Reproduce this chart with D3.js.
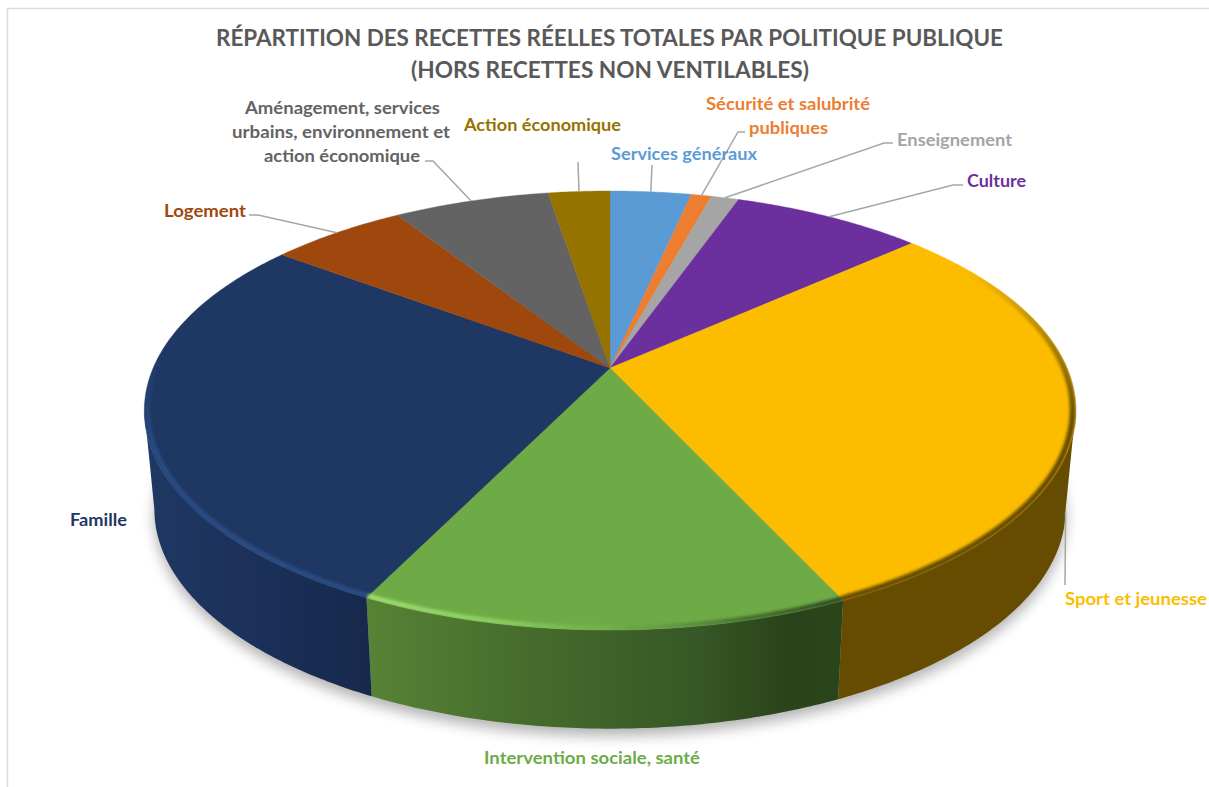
<!DOCTYPE html>
<html lang="fr"><head><meta charset="utf-8">
<script src="https://cdn.jsdelivr.net/npm/d3@7/dist/d3.min.js"></script>
<style>html,body{margin:0;padding:0;background:#fff;overflow:hidden}svg{display:block}text{font-family:Lato,"Open Sans",sans-serif;font-weight:700}</style>
</head><body><svg id="c" width="1209" height="787"></svg>
<script>
// --- data ---
const categories = ["Services généraux","Sécurité et salubrité publiques","Enseignement","Culture","Sport et jeunesse","Intervention sociale, santé","Famille","Logement","Aménagement, services urbains, environnement et action économique","Action économique"];
const values = [3.4,0.85,1.15,8.0,29.69,14.17,27.94,5.7,6.52,2.58];
const titleLines = ["RÉPARTITION DES RECETTES RÉELLES TOTALES PAR POLITIQUE PUBLIQUE","(HORS RECETTES NON VENTILABLES)"];
// --- appearance ---
const colors = ["#5b9bd5","#ed7d31","#a5a5a5","#6b2f9e","#fcbd00","#6eab47","#1e3763","#9e480e","#636363","#967200"];
// label layout: lines [text, left x, width, baseline y], leader start and elbow points
const layout = [
 {lines:[["Services généraux",611,146,160]],elbow:[[652,165]]},
 {lines:[["Sécurité et salubrité",706,164,110],["publiques",749,79,134]],elbow:[[745,132],[738,132]]},
 {lines:[["Enseignement",897,115,146]],elbow:[[893,143],[884,143]]},
 {lines:[["Culture",967,59,187]],elbow:[[963,185],[953,185]]},
 {lines:[["Sport et jeunesse",1065,142,605]],elbow:[[1065,585]],bottom:true},
 {lines:[["Intervention sociale, santé",484,216,764]],elbow:null},
 {lines:[["Famille",70,57,526]],elbow:null},
 {lines:[["Logement",164,82,217]],elbow:[[249,215],[258,215]]},
 {lines:[["Aménagement, services",245,195,114],["urbains, environnement et",232,218,138],["action économique",264,156,162]],elbow:[[425,161],[433,161]]},
 {lines:[["Action économique",464,157,131]],elbow:[[578,162]]}
];
const svg = d3.select("#c");
const defs = svg.append("defs");
const blur=(id,s)=>defs.append("filter").attr("id",id).attr("filterUnits","userSpaceOnUse").attr("x",0).attr("y",0).attr("width",1209).attr("height",787).append("feGaussianBlur").attr("stdDeviation",s);
blur("shadow",7); blur("rim",1.5);

// perspective disc: angle -> screen point
const K=-0.1936, CX=610;
function projS(a,scale){
  const u=Math.sin(a)*scale, v=-Math.cos(a)*scale, w=1+K*v;
  return [CX+456.8*u/w, 368+211.3*v/w];
}
function proj(a,top){
  if(top) return projS(a,1);
  const u=Math.sin(a), v=-Math.cos(a), w=1+K*v;
  return [CX+447*u/w, 467+211*v/w];
}
const samples=(a0,a1)=>{const n=Math.max(2,Math.ceil((a1-a0)/0.01));return d3.range(n+1).map(i=>a0+(a1-a0)*i/n);};
const line=d3.line();
const arcs=d3.pie().sort(null).value(d=>d)(values);

// frame
svg.append("path").attr("d","M7.5,787V8.5H1209").attr("fill","none").attr("stroke","#dcdcdc").attr("stroke-width",1.5);

// shadow
svg.append("path").attr("d",line(samples(0,2*Math.PI).map(a=>{const p=proj(a,false);return [p[0],p[1]+7];}))+"Z")
  .attr("fill","#000").attr("opacity",.3).attr("filter","url(#shadow)");

// side gradients
const sideStops={
 4:[[835,"#654c00"],[1076,"#654c00"]],
 5:[[367,"#578336"],[520,"#466d2c"],[700,"#365726"],[790,"#2a431a"],[836,"#2b451b"]],
 6:[[144,"#1f3864"],[260,"#1b3059"],[372,"#16294c"]]
};
Object.entries(sideStops).forEach(([i,st])=>{
  const g=defs.append("linearGradient").attr("id","side"+i).attr("gradientUnits","userSpaceOnUse")
    .attr("x1",st[0][0]).attr("x2",st[st.length-1][0]).attr("y1",0).attr("y2",0);
  st.forEach(s=>g.append("stop").attr("offset",(s[0]-st[0][0])/(st[st.length-1][0]-st[0][0])).attr("stop-color",s[1]));
});
// sides: visible between the two silhouette tangents of the disc
const FRONT0=Math.PI-Math.acos(-K), FRONT1=2*Math.PI-FRONT0;
arcs.forEach((d,i)=>{
  const a0=Math.max(d.startAngle,FRONT0), a1=Math.min(d.endAngle,FRONT1);
  if(a1<=a0) return;
  const s=samples(a0,a1);
  svg.append("path").attr("d",line(s.map(a=>proj(a,true)).concat(s.slice().reverse().map(a=>proj(a,false))))+"Z")
    .attr("fill",sideStops[i]?`url(#side${i})`:colors[i]);
});
// top face
arcs.forEach((d,i)=>{
  const s=samples(d.startAngle,d.endAngle);
  svg.append("path").attr("d",line([projS(0,0)].concat(s.map(a=>proj(a,true))))+"Z")
    .attr("fill",colors[i]).attr("stroke",colors[i]).attr("stroke-width",.4);
});
// bevel along the rim of the top face, per slice
defs.append("clipPath").attr("id","disc").append("path").attr("d",line(samples(0,2*Math.PI).map(a=>projS(a,1.002)))+"Z");
function grad(id,horizontal,from,to,stops){
  const g=defs.append("linearGradient").attr("id",id).attr("gradientUnits","userSpaceOnUse")
    .attr("x1",horizontal?from:0).attr("x2",horizontal?to:0).attr("y1",horizontal?0:from).attr("y2",horizontal?0:to);
  stops.forEach(s=>g.append("stop").attr("offset",s[0]).attr("stop-color",s[1]).attr("stop-opacity",s[2]));
}
grad("rimYellow",false,270,420,[[0,"#654c00",0],[.5,"#654c00",.55],[1,"#654c00",1]]);
grad("rimGreen",true,367,841,[[0,"#a4e675",.95],[.3,"#95dc68",.75],[.5,"#80c455",.25],[.6,"#3f6329",.15],[.8,"#365726",.75],[1,"#2a431a",1]]);
grad("rimNavy",false,350,450,[[0,"#2f5594",0],[1,"#2f5594",.7]]);
const rimG=svg.append("g").attr("clip-path","url(#disc)").append("g").attr("filter","url(#rim)");
[[4,"rimYellow",6],[5,"rimGreen",4.5],[6,"rimNavy",5]].forEach(r=>{
  const d=arcs[r[0]];
  rimG.append("path").attr("d",line(samples(d.startAngle,d.endAngle).map(a=>projS(a,.994))))
    .attr("fill","none").attr("stroke",`url(#${r[1]})`).attr("stroke-width",r[2]).attr("stroke-linecap","butt");
});

// leaders
arcs.forEach((d,i)=>{
  const L=layout[i]; if(!L.elbow) return;
  const end=proj((d.startAngle+d.endAngle)/2,!L.bottom);
  svg.append("path").attr("d",line(L.elbow.concat([end]))).attr("fill","none").attr("stroke","#a6a6a6").attr("stroke-width",1.5);
});
// labels
arcs.forEach((d,i)=>{
  layout[i].lines.forEach(l=>{
    svg.append("text").attr("x",l[1]).attr("y",l[3]).attr("font-size",16.5).attr("fill",colors[i])
      .attr("textLength",l[2]).attr("lengthAdjust","spacingAndGlyphs").text(l[0]);
  });
});
// title
[[216,787,46],[411,398,78]].forEach((t,i)=>{
  svg.append("text").attr("x",t[0]).attr("y",t[2]).attr("font-size",23).attr("fill","#595959")
    .attr("textLength",t[1]).attr("lengthAdjust","spacingAndGlyphs").text(titleLines[i]);
});
</script></body></html>
